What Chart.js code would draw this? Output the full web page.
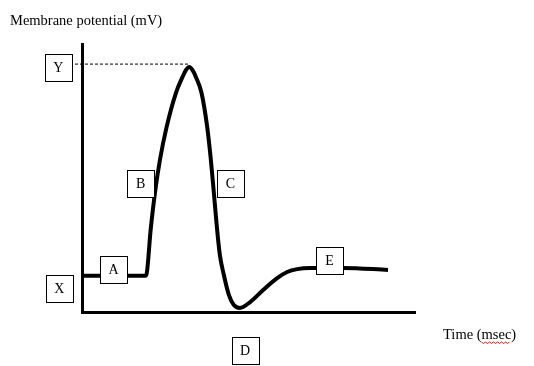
<!DOCTYPE html>
<html>
<head>
<meta charset="utf-8">
<script src="https://cdn.jsdelivr.net/npm/chart.js@4/dist/chart.umd.min.js"></script>
<style>
  html, body { margin: 0; padding: 0; background: #fff; }
  #wrap { position: relative; width: 534px; height: 366px; }
</style>
</head>
<body>
<div id="wrap"><canvas id="c" width="534" height="366"></canvas></div>
<script>
// ---- Data (time in ms, membrane potential in mV) ----
const timeMs = [0, 1.92, 2.07, 2.19, 2.34, 2.54, 2.82, 3.02, 3.12, 3.22, 3.32, 3.42, 3.59, 3.76, 3.87, 3.96, 4.05, 4.14, 4.26, 4.41, 4.56, 4.74, 5.05, 5.44, 5.86, 6.16, 6.46, 6.85, 7.84, 9.19];
const potentialMv = [-69, -69, -43.6, -25.8, -8.6, 8.6, 26.4, 34.8, 38.3, 40.0, 38.3, 34.8, 26.4, 8.6, -8.6, -25.8, -43.6, -58.2, -68.7, -79.1, -84.4, -85.9, -82.8, -76.5, -70.3, -67.1, -65.6, -65, -65, -66];
const peakLineX = [-0.21, 3.2];
const peakLineY = [41.5, 41.5];
const labelNames = ['Y', 'X', 'A', 'B', 'C', 'D', 'E'];
const labelX = [-0.71, -0.68, 0.95, 1.76, 4.46, 4.9, 7.43];
const labelY = [39.7, -75.5, -65.8, -20.9, -20.9, -108.1, -61.1];
const yAxisTitle = 'Membrane potential (mV)';
const xAxisTitle = 'Time (msec)';

const curve = timeMs.map((t, i) => ({ x: t, y: potentialMv[i] }));
const peakLine = peakLineX.map((t, i) => ({ x: t, y: peakLineY[i] }));

const serif = '"Liberation Serif", "Times New Roman", serif';

const annotations = {
  id: 'annotations',
  afterDraw(chart) {
    const { ctx, scales } = chart;
    const xs = scales.x, ys = scales.y;
    ctx.save();
    // boxed labels
    ctx.font = '14px ' + serif;
    ctx.textAlign = 'center';
    ctx.textBaseline = 'middle';
    labelNames.forEach((name, i) => {
      const cx = xs.getPixelForValue(labelX[i]);
      const cy = ys.getPixelForValue(labelY[i]);
      const w = 27, h = 27;
      const x0 = Math.round(cx - w / 2) + 0.5, y0 = Math.round(cy - h / 2) + 0.5;
      ctx.fillStyle = '#fff';
      ctx.fillRect(x0, y0, w, h);
      ctx.strokeStyle = '#000';
      ctx.lineWidth = 1;
      ctx.strokeRect(x0, y0, w, h);
      ctx.fillStyle = '#000';
      ctx.fillText(name, cx, cy + 1);
    });
    // axis titles
    ctx.textAlign = 'left';
    ctx.textBaseline = 'alphabetic';
    ctx.font = '14.5px ' + serif;
    ctx.fillText(yAxisTitle, 10, 25);
    ctx.fillText(xAxisTitle, 443, 339);
    // spell-check squiggle under "msec"
    const pre = ctx.measureText('Time (').width;
    const wMsec = ctx.measureText('msec').width;
    ctx.strokeStyle = '#e02020';
    ctx.lineWidth = 1;
    ctx.beginPath();
    const sx = 443 + pre, sy = 342;
    for (let k = 0; k <= wMsec; k += 2) {
      const yy = sy + ((k / 2) % 2 === 0 ? 0 : 1.5);
      if (k === 0) ctx.moveTo(sx + k, yy); else ctx.lineTo(sx + k, yy);
    }
    ctx.stroke();
    ctx.restore();
  }
};

new Chart(document.getElementById('c'), {
  type: 'line',
  data: {
    datasets: [
      {
        data: curve,
        borderColor: '#000',
        borderWidth: 4,
        pointRadius: 0,
        cubicInterpolationMode: 'monotone',
        fill: false,
        clip: false
      },
      {
        data: peakLine,
        borderColor: '#000',
        borderWidth: 1,
        borderDash: [3, 2],
        pointRadius: 0,
        tension: 0,
        fill: false,
        clip: false
      }
    ]
  },
  options: {
    responsive: false,
    animation: false,
    devicePixelRatio: 1,
    layout: { padding: { left: 82, top: 44, right: 119, bottom: 54 } },
    plugins: { legend: { display: false }, tooltip: { enabled: false }, title: { display: false } },
    scales: {
      x: {
        type: 'linear', min: 0, max: 10,
        grid: { display: false, drawTicks: false },
        ticks: { display: false },
        border: { display: true, color: '#000', width: 3 }
      },
      y: {
        type: 'linear', min: -88, max: 52,
        grid: { display: false, drawTicks: false },
        ticks: { display: false },
        border: { display: true, color: '#000', width: 3 }
      }
    }
  },
  plugins: [annotations]
});
</script>
</body>
</html>
